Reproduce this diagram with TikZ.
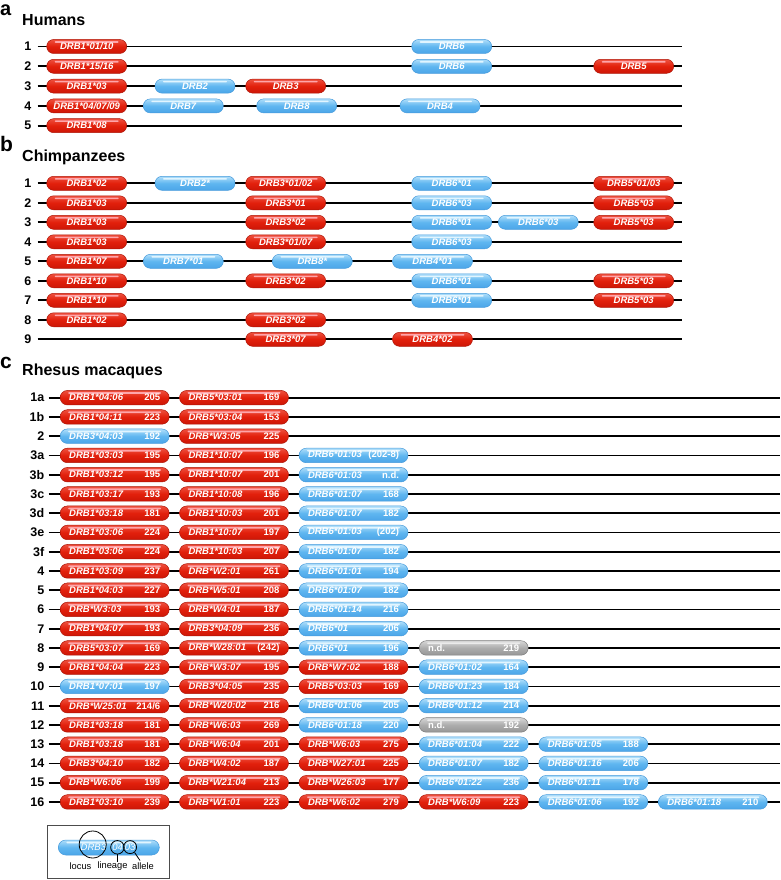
\documentclass[tikz,border=0pt]{standalone}
\usepackage{fontspec}
\setmainfont{Liberation Sans}
\definecolor{redtop}{RGB}{238,80,62}
\definecolor{redmid}{RGB}{226,32,12}
\definecolor{redbot}{RGB}{205,22,6}
\definecolor{redline}{RGB}{175,22,8}
\definecolor{redhl}{RGB}{255,165,170}
\definecolor{bluetop}{RGB}{175,222,250}
\definecolor{bluemid}{RGB}{95,182,240}
\definecolor{bluebot}{RGB}{75,165,232}
\definecolor{blueline}{RGB}{70,155,220}
\definecolor{bluehl}{RGB}{225,245,255}
\definecolor{graytop}{RGB}{215,215,215}
\definecolor{graymid}{RGB}{172,172,172}
\definecolor{graybot}{RGB}{150,150,150}
\definecolor{grayline}{RGB}{125,125,125}
\definecolor{grayhl}{RGB}{235,235,235}
\newcommand\genefont{\fontsize{9.5}{11}\selectfont\bfseries\itshape}
\newcommand\rowfont{\fontsize{12.5}{14}\selectfont\bfseries}
\newcommand\cx[1]{\ifcase#1\or114.7\or234\or353.5\or473.7\or593.3\or712.8\fi}
\tikzset{
  pillbase/.style={rounded corners=7pt, inner sep=0pt, minimum height=14pt,
    text=white, font=\genefont, line width=0.5pt},
  hilite/.style={path picture={\fill[#1, rounded corners=0.8pt]
    ([xshift=8pt,yshift=-1.7pt]path picture bounding box.north west) rectangle
    ([xshift=-8pt,yshift=-3.3pt]path picture bounding box.north east);}},
  redpill/.style={pillbase, draw=redline, top color=redtop, bottom color=redbot,
    middle color=redmid, hilite=redhl},
  bluepill/.style={pillbase, draw=blueline, top color=bluetop, bottom color=bluebot,
    middle color=bluemid, hilite=bluehl},
  graypill/.style={pillbase, draw=grayline, top color=graytop, bottom color=graybot,
    middle color=graymid, hilite=grayhl},
  abpill/.style={minimum width=80pt},
  cpill/.style={minimum width=109pt, minimum height=14.5pt, rounded corners=7.25pt},
  chrom/.style={line width=1.7pt, black},
  rowlab/.style={anchor=east, inner sep=0pt, font=\rowfont},
  panellab/.style={anchor=base west, inner sep=0pt, font=\fontsize{21}{24}\selectfont\bfseries},
  paneltitle/.style={anchor=base west, inner sep=0pt, font=\fontsize{16}{18}\selectfont\bfseries},
  legtext/.style={inner sep=0pt, font=\fontsize{9.3}{11}\selectfont},
  legcirc/.style={draw=black, line width=0.8pt},
}
% panel a/b row: name, y, label
\newcommand\abrow[3]{%
  \node[rowlab] (#1) at (31.5,#2) {#3};
  \coordinate (#1end) at (682,#2);
  \draw[chrom] ([xshift=6pt]#1.east) -- (#1end);}
% panel a/b gene: name, x, y, style, text
\newcommand\abg[5]{\node[#4, abpill] (#1) at (#2,#3) {#5};}
% panel c row: id, y, label
\newcommand\crow[3]{%
  \def\cy{#2}\def\cid{#1}%
  \node[rowlab] (c#1) at (44.5,#2) {#3};
  \coordinate (c#1end) at (780,#2);
  \draw[chrom] ([xshift=4pt]c#1.east) -- (c#1end);}
% panel c gene: col, style, name, number
\newcommand\cg[4]{\node[#2, cpill] (c\cid g#1) at (\cx{#1},\cy)
  {\hbox to 91pt{#3\hfill\upshape #4}};}
\begin{document}
\begin{tikzpicture}[x=1pt, y=-1pt]
\useasboundingbox (0,0) rectangle (780,880);
\fill[white] (0,0) rectangle (780,880);

% ---------- panel a ----------
\node[panellab, font=\fontsize{20}{22}\selectfont\bfseries, text height=11pt, text depth=0pt] (la) at (0,15.5) {a};
\node[paneltitle] (ta) at (22,26) {Humans};
\abrow{a1}{46.5}{1}
\abg{a1a}{86.7}{46.5}{redpill}{DRB1*01/10}
\abg{a1b}{451.7}{46.5}{bluepill}{DRB6}
\abrow{a2}{66.3}{2}
\abg{a2a}{86.7}{66.3}{redpill}{DRB1*15/16}
\abg{a2b}{451.7}{66.3}{bluepill}{DRB6}
\abg{a2c}{633.7}{66.3}{redpill}{DRB5}
\abrow{a3}{86.1}{3}
\abg{a3a}{86.7}{86.1}{redpill}{DRB1*03}
\abg{a3b}{195}{86.1}{bluepill}{DRB2}
\abg{a3c}{285.7}{86.1}{redpill}{DRB3}
\abrow{a4}{105.9}{4}
\abg{a4a}{86.7}{105.9}{redpill}{DRB1*04/07/09}
\abg{a4b}{183.3}{105.9}{bluepill}{DRB7}
\abg{a4c}{296.7}{105.9}{bluepill}{DRB8}
\abg{a4d}{440}{105.9}{bluepill}{DRB4}
\abrow{a5}{125.7}{5}
\abg{a5a}{86.7}{125.7}{redpill}{DRB1*08}

% ---------- panel b ----------
\node[panellab] (lb) at (0,151.5) {b};
\node[paneltitle] (tb) at (22,161.7) {Chimpanzees};
\abrow{b1}{183.3}{1}
\abg{b1a}{86.7}{183.3}{redpill}{DRB1*02}
\abg{b1b}{195}{183.3}{bluepill}{DRB2*}
\abg{b1c}{285.7}{183.3}{redpill}{DRB3*01/02}
\abg{b1d}{451.7}{183.3}{bluepill}{DRB6*01}
\abg{b1e}{633.7}{183.3}{redpill}{DRB5*01/03}
\abrow{b2}{202.8}{2}
\abg{b2a}{86.7}{202.8}{redpill}{DRB1*03}
\abg{b2c}{285.7}{202.8}{redpill}{DRB3*01}
\abg{b2d}{451.7}{202.8}{bluepill}{DRB6*03}
\abg{b2e}{633.7}{202.8}{redpill}{DRB5*03}
\abrow{b3}{222.3}{3}
\abg{b3a}{86.7}{222.3}{redpill}{DRB1*03}
\abg{b3c}{285.7}{222.3}{redpill}{DRB3*02}
\abg{b3d}{451.7}{222.3}{bluepill}{DRB6*01}
\abg{b3f}{538.3}{222.3}{bluepill}{DRB6*03}
\abg{b3e}{633.7}{222.3}{redpill}{DRB5*03}
\abrow{b4}{241.8}{4}
\abg{b4a}{86.7}{241.8}{redpill}{DRB1*03}
\abg{b4c}{285.7}{241.8}{redpill}{DRB3*01/07}
\abg{b4d}{451.7}{241.8}{bluepill}{DRB6*03}
\abrow{b5}{261.3}{5}
\abg{b5a}{86.7}{261.3}{redpill}{DRB1*07}
\abg{b5b}{183.3}{261.3}{bluepill}{DRB7*01}
\abg{b5c}{312.3}{261.3}{bluepill}{DRB8*}
\abg{b5d}{432.5}{261.3}{bluepill}{DRB4*01}
\abrow{b6}{280.8}{6}
\abg{b6a}{86.7}{280.8}{redpill}{DRB1*10}
\abg{b6c}{285.7}{280.8}{redpill}{DRB3*02}
\abg{b6d}{451.7}{280.8}{bluepill}{DRB6*01}
\abg{b6e}{633.7}{280.8}{redpill}{DRB5*03}
\abrow{b7}{300.3}{7}
\abg{b7a}{86.7}{300.3}{redpill}{DRB1*10}
\abg{b7d}{451.7}{300.3}{bluepill}{DRB6*01}
\abg{b7e}{633.7}{300.3}{redpill}{DRB5*03}
\abrow{b8}{319.8}{8}
\abg{b8a}{86.7}{319.8}{redpill}{DRB1*02}
\abg{b8c}{285.7}{319.8}{redpill}{DRB3*02}
\abrow{b9}{339.3}{9}
\abg{b9c}{285.7}{339.3}{redpill}{DRB3*07}
\abg{b9d}{432.5}{339.3}{redpill}{DRB4*02}

% ---------- panel c ----------
\node[panellab] (lc) at (0,368) {c};
\node[paneltitle] (tc) at (22,375) {Rhesus macaques};
\crow{1a}{397.7}{1a}
\cg{1}{redpill}{DRB1*04:06}{205}\cg{2}{redpill}{DRB5*03:01}{169}
\crow{1b}{416.95}{1b}
\cg{1}{redpill}{DRB1*04:11}{223}\cg{2}{redpill}{DRB5*03:04}{153}
\crow{2}{436.2}{2}
\cg{1}{bluepill}{DRB3*04:03}{192}\cg{2}{redpill}{DRB*W3:05}{225}
\crow{3a}{455.45}{3a}
\cg{1}{redpill}{DRB1*03:03}{195}\cg{2}{redpill}{DRB1*10:07}{196}\cg{3}{bluepill}{DRB6*01:03}{(202-8)}
\crow{3b}{474.7}{3b}
\cg{1}{redpill}{DRB1*03:12}{195}\cg{2}{redpill}{DRB1*10:07}{201}\cg{3}{bluepill}{DRB6*01:03}{n.d.}
\crow{3c}{493.95}{3c}
\cg{1}{redpill}{DRB1*03:17}{193}\cg{2}{redpill}{DRB1*10:08}{196}\cg{3}{bluepill}{DRB6*01:07}{168}
\crow{3d}{513.2}{3d}
\cg{1}{redpill}{DRB1*03:18}{181}\cg{2}{redpill}{DRB1*10:03}{201}\cg{3}{bluepill}{DRB6*01:07}{182}
\crow{3e}{532.45}{3e}
\cg{1}{redpill}{DRB1*03:06}{224}\cg{2}{redpill}{DRB1*10:07}{197}\cg{3}{bluepill}{DRB6*01:03}{(202)}
\crow{3f}{551.7}{3f}
\cg{1}{redpill}{DRB1*03:06}{224}\cg{2}{redpill}{DRB1*10:03}{207}\cg{3}{bluepill}{DRB6*01:07}{182}
\crow{4}{570.95}{4}
\cg{1}{redpill}{DRB1*03:09}{237}\cg{2}{redpill}{DRB*W2:01}{261}\cg{3}{bluepill}{DRB6*01:01}{194}
\crow{5}{590.2}{5}
\cg{1}{redpill}{DRB1*04:03}{227}\cg{2}{redpill}{DRB*W5:01}{208}\cg{3}{bluepill}{DRB6*01:07}{182}
\crow{6}{609.45}{6}
\cg{1}{redpill}{DRB*W3:03}{193}\cg{2}{redpill}{DRB*W4:01}{187}\cg{3}{bluepill}{DRB6*01:14}{216}
\crow{7}{628.7}{7}
\cg{1}{redpill}{DRB1*04:07}{193}\cg{2}{redpill}{DRB3*04:09}{236}\cg{3}{bluepill}{DRB6*01}{206}
\crow{8}{647.95}{8}
\cg{1}{redpill}{DRB5*03:07}{169}\cg{2}{redpill}{DRB*W28:01}{(242)}\cg{3}{bluepill}{DRB6*01}{196}\cg{4}{graypill}{\upshape n.d.}{219}
\crow{9}{667.2}{9}
\cg{1}{redpill}{DRB1*04:04}{223}\cg{2}{redpill}{DRB*W3:07}{195}\cg{3}{redpill}{DRB*W7:02}{188}\cg{4}{bluepill}{DRB6*01:02}{164}
\crow{10}{686.45}{10}
\cg{1}{bluepill}{DRB1*07:01}{197}\cg{2}{redpill}{DRB3*04:05}{235}\cg{3}{redpill}{DRB5*03:03}{169}\cg{4}{bluepill}{DRB6*01:23}{184}
\crow{11}{705.7}{11}
\cg{1}{redpill}{DRB*W25:01}{214/6}\cg{2}{redpill}{DRB*W20:02}{216}\cg{3}{bluepill}{DRB6*01:06}{205}\cg{4}{bluepill}{DRB6*01:12}{214}
\crow{12}{724.95}{12}
\cg{1}{redpill}{DRB1*03:18}{181}\cg{2}{redpill}{DRB*W6:03}{269}\cg{3}{bluepill}{DRB6*01:18}{220}\cg{4}{graypill}{\upshape n.d.}{192}
\crow{13}{744.2}{13}
\cg{1}{redpill}{DRB1*03:18}{181}\cg{2}{redpill}{DRB*W6:04}{201}\cg{3}{redpill}{DRB*W6:03}{275}\cg{4}{bluepill}{DRB6*01:04}{222}\cg{5}{bluepill}{DRB6*01:05}{188}
\crow{14}{763.45}{14}
\cg{1}{redpill}{DRB3*04:10}{182}\cg{2}{redpill}{DRB*W4:02}{187}\cg{3}{redpill}{DRB*W27:01}{225}\cg{4}{bluepill}{DRB6*01:07}{182}\cg{5}{bluepill}{DRB6*01:16}{206}
\crow{15}{782.7}{15}
\cg{1}{redpill}{DRB*W6:06}{199}\cg{2}{redpill}{DRB*W21:04}{213}\cg{3}{redpill}{DRB*W26:03}{177}\cg{4}{bluepill}{DRB6*01:22}{236}\cg{5}{bluepill}{DRB6*01:11}{178}
\crow{16}{801.95}{16}
\cg{1}{redpill}{DRB1*03:10}{239}\cg{2}{redpill}{DRB*W1:01}{223}\cg{3}{redpill}{DRB*W6:02}{279}\cg{4}{redpill}{DRB*W6:09}{223}\cg{5}{bluepill}{DRB6*01:06}{192}\cg{6}{bluepill}{DRB6*01:18}{210}

% ---------- legend ----------
\node[draw=black!70, line width=0.8pt, minimum width=122pt, minimum height=53pt, inner sep=0pt]
  (legbox) at (108.3,851.7) {};
\node[bluepill, minimum width=101pt, minimum height=15pt, rounded corners=7.5pt] (legpill) at (108.8,847.5) {};
\node[text=white, inner sep=0pt, font=\fontsize{9.5}{11}\selectfont\itshape] (lDRB) at (93.4,847.5) {DRB3};
\node[text=white, inner sep=0pt, font=\fontsize{9.5}{11}\selectfont\itshape] (l04) at (117.6,847.5) {04};
\node[text=white, inner sep=0pt, font=\fontsize{9.5}{11}\selectfont\itshape] (l03) at (130.2,847.5) {03};
\node[legcirc, circle, minimum size=27pt, inner sep=0pt] (cDRB) at (92.7,844.5) {};
\node[legcirc, circle, minimum size=13.5pt, inner sep=0pt] (c04) at (117.4,847.3) {};
\node[legcirc, circle, minimum size=13pt, inner sep=0pt] (c03) at (130.1,847.1) {};
\node[legtext] (tlocus) at (80.5,866.5) {locus};
\node[legtext] (tlineage) at (112.5,866.5) {lineage};
\node[legtext] (tallele) at (143,866.5) {allele};
\draw[line width=0.8pt] (c04.south) -- (c04.south |- tlineage.north);
\draw[line width=0.8pt] (c03.-50) -- (140,860.5);
\end{tikzpicture}
\end{document}
